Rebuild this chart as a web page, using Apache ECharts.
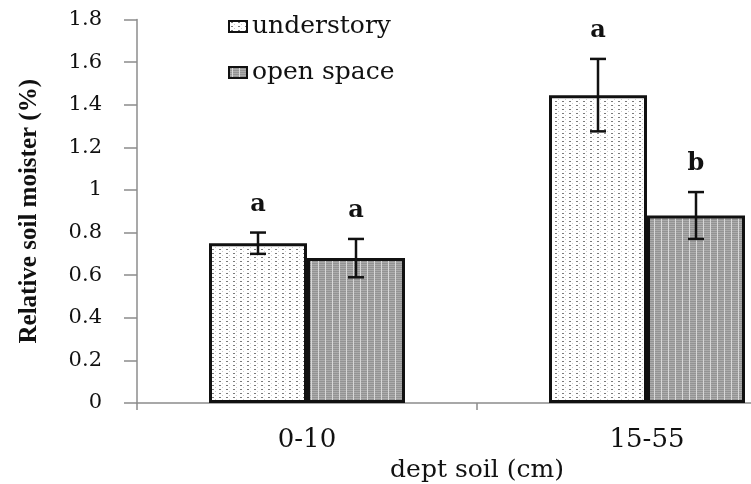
<!DOCTYPE html>
<html>
<head>
<meta charset="utf-8">
<script src="https://cdn.jsdelivr.net/npm/echarts@6.0.0/dist/echarts.min.js"></script>
<style>
  html, body { margin: 0; padding: 0; background: #fff; }
  #chart { width: 751px; height: 484px; }
</style>
</head>
<body>
<div id="chart"></div>
<script>
// data
var categories = ['0-10', '15-55'];
var understory = [0.75, 1.445];
var understoryErr = [0.05, 0.17];
var understoryLetters = ['a', 'a'];
var openSpace = [0.68, 0.88];
var openSpaceErr = [0.09, 0.11];
var openSpaceLetters = ['a', 'b'];
var yMin = 0, yMax = 1.8, yStep = 0.2;

var BAR_W = 98;
var SERIF = 'DejaVu Serif';

// small fill patterns like the scanned hatching
function makePattern(kind) {
  var c = document.createElement('canvas');
  c.width = 7; c.height = 4;
  var g = c.getContext('2d');
  if (kind === 'dots') {
    g.fillStyle = '#ffffff'; g.fillRect(0, 0, 7, 4);
    g.fillStyle = '#7a7a7a'; g.fillRect(2, 1, 2, 1);
    g.fillStyle = '#cccccc'; g.fillRect(5, 3, 1, 1);
  } else {
    g.fillStyle = '#ababab'; g.fillRect(0, 0, 7, 4);
    g.fillStyle = '#939393'; g.fillRect(0, 1, 7, 1); g.fillRect(0, 3, 7, 1);
    g.fillStyle = '#d8d8d8'; g.fillRect(3, 0, 1, 4);
  }
  return c;
}

function errData(means, errs) {
  var out = [];
  for (var i = 0; i < means.length; i++) {
    out.push([i, means[i] - errs[i], means[i] + errs[i]]);
  }
  return out;
}

function errRenderer(side, letters) {
  return function (params, api) {
    var ci = api.value(0);
    var top = api.coord([ci, api.value(2)]);
    var bot = api.coord([ci, api.value(1)]);
    var x = top[0] + side * BAR_W / 2;
    var st = { stroke: '#111', lineWidth: 2.5 };
    return {
      type: 'group',
      children: [
        { type: 'line', shape: { x1: x, y1: top[1], x2: x, y2: bot[1] }, style: st },
        { type: 'line', shape: { x1: x - 8, y1: top[1], x2: x + 8, y2: top[1] }, style: st },
        { type: 'line', shape: { x1: x - 8, y1: bot[1], x2: x + 8, y2: bot[1] }, style: st },
        {
          type: 'text',
          style: {
            x: x, y: top[1] - 28, text: letters[params.dataIndex],
            align: 'center', verticalAlign: 'middle',
            font: 'bold 24px "' + SERIF + '"', fill: '#111'
          }
        }
      ]
    };
  };
}

var chart = echarts.init(document.getElementById('chart'));
chart.setOption({
  animation: false,
  backgroundColor: '#fff',
  grid: { left: 137, top: 19.5, width: 680, bottom: 81, outerBoundsMode: 'none' },
  legend: {
    orient: 'vertical',
    left: 228,
    top: 14,
    padding: 0,
    itemWidth: 18,
    itemHeight: 11,
    itemGap: 21,
    icon: 'rect',
    itemStyle: { borderColor: '#111', borderWidth: 2 },
    textStyle: { fontFamily: SERIF, fontSize: 25, color: '#111' },
    data: ['understory', 'open space']
  },
  xAxis: {
    type: 'category',
    data: categories,
    name: 'dept soil (cm)',
    nameLocation: 'middle',
    nameGap: 50,
    nameTextStyle: { fontFamily: SERIF, fontSize: 25, color: '#111' },
    axisLine: { lineStyle: { color: '#8c8c8c', width: 1.5 } },
    axisTick: { show: true, length: 7, lineStyle: { color: '#8c8c8c', width: 1.5 } },
    axisLabel: { margin: 24, fontFamily: SERIF, fontSize: 26, color: '#111' }
  },
  yAxis: {
    type: 'value',
    min: yMin,
    max: yMax,
    interval: yStep,
    name: 'Relative soil moister (%)',
    nameLocation: 'middle',
    nameGap: 95,
    nameTextStyle: { fontFamily: 'Liberation Serif', fontWeight: 'bold', fontSize: 25, color: '#111' },
    splitLine: { show: false },
    axisLine: { show: true, lineStyle: { color: '#8c8c8c', width: 1.5 } },
    axisTick: { show: true, length: 13, lineStyle: { color: '#8c8c8c', width: 1.5 } },
    axisLabel: { margin: 35, fontFamily: SERIF, fontSize: 21, color: '#111' }
  },
  series: [
    {
      name: 'understory',
      type: 'bar',
      data: understory,
      barWidth: BAR_W,
      barGap: '0%',
      itemStyle: {
        color: { image: makePattern('dots'), repeat: 'repeat' },
        borderColor: '#111',
        borderWidth: 3
      }
    },
    {
      name: 'open space',
      type: 'bar',
      data: openSpace,
      barWidth: BAR_W,
      barGap: '0%',
      itemStyle: {
        color: { image: makePattern('stripes'), repeat: 'repeat' },
        borderColor: '#111',
        borderWidth: 3
      }
    },
    {
      type: 'custom',
      renderItem: errRenderer(-1, understoryLetters),
      data: errData(understory, understoryErr),
      z: 5
    },
    {
      type: 'custom',
      renderItem: errRenderer(1, openSpaceLetters),
      data: errData(openSpace, openSpaceErr),
      z: 5
    }
  ]
});
</script>
</body>
</html>
